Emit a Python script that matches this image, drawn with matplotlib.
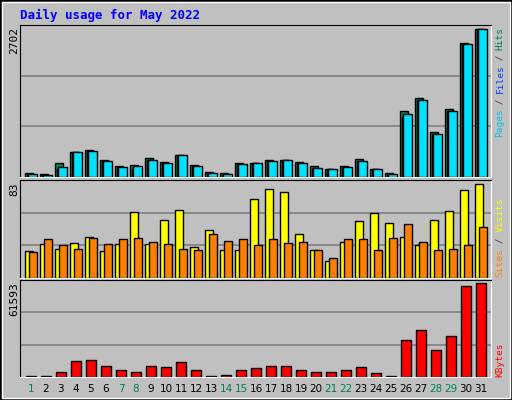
import matplotlib
matplotlib.use("Agg")
import matplotlib.pyplot as plt
from matplotlib.patches import Rectangle

days = list(range(1, 32))
weekend = [1, 7, 8, 14, 15, 21, 22, 28, 29]
hits = [80, 60, 263, 465, 500, 318, 208, 226, 354, 281, 410, 226, 98, 80, 263, 263,
        318, 318, 281, 208, 153, 208, 336, 153, 80, 1198, 1436, 813, 1234, 2444, 2702]
files = [60, 40, 150, 465, 480, 300, 190, 150, 318, 263, 410, 208, 80, 43, 245, 263,
         300, 318, 263, 171, 153, 190, 300, 153, 60, 1094, 1400, 794, 1198, 2426, 2702]
pages = [60, 40, 190, 465, 480, 300, 190, 208, 318, 263, 410, 208, 80, 60, 245, 263,
         300, 318, 263, 171, 153, 190, 300, 153, 60, 1143, 1400, 794, 1198, 2426, 2702]
visits = [24, 30, 26, 31, 36, 24, 30, 58, 30, 51, 60, 27, 42, 25, 25, 70, 79, 76, 39,
          25, 15, 32, 50, 57, 49, 36, 29, 51, 59, 78, 83]
sites = [23, 34, 29, 26, 35, 30, 34, 35, 32, 30, 26, 25, 39, 33, 34, 29, 34, 31, 32,
         25, 18, 34, 34, 25, 35, 48, 32, 25, 26, 29, 45]
kbytes = [900, 900, 3600, 10300, 11000, 6900, 4300, 3600, 6900, 6300, 9600, 4900, 900,
          1600, 4300, 5600, 6900, 6900, 4900, 3600, 3600, 4300, 6300, 2900, 900, 24400,
          31100, 17700, 27100, 59400, 61593]

W, H = 512, 400
BG = "#C0C0C0"
fig = plt.figure(figsize=(W / 100, H / 100), dpi=100, facecolor=BG)
MONO = "DejaVu Sans Mono"

# outer border
fig.patches.append(Rectangle((0, 0), 1, 1, transform=fig.transFigure, fill=False,
                             edgecolor="black", linewidth=2))
fig.patches.append(Rectangle((2/W, 2/H), 1-4/W, 1-4/H, transform=fig.transFigure,
                             fill=False, edgecolor="white", linewidth=1))

def px_ax(l, t, w, h):
    return fig.add_axes([l / W, 1 - (t + h) / H, w / W, h / H])

def style(ax, top):
    ax.set_facecolor(BG)
    ax.set_xlim(0, 31.4)
    ax.set_ylim(0, top)
    for y in (top / 3, 2 * top / 3):
        ax.axhline(y, color="#808080", linewidth=1.2, zorder=0)
    ax.set_xticks([]); ax.set_yticks([])
    ax.spines["top"].set_color("black"); ax.spines["left"].set_color("black")
    ax.spines["bottom"].set_color("white"); ax.spines["right"].set_color("white")

x0 = [d - 1 for d in days]
ec = dict(edgecolor="black", linewidth=1, align="edge")

ax1 = px_ax(20, 25, 471, 152)
style(ax1, max(hits) * 152 / 148)
ax1.bar([x + 0.33 for x in x0], hits, width=0.55, color="#00805C", **ec)
ax1.bar([x + 0.45 for x in x0], files, width=0.5, color="#0000FF", **ec)
ax1.bar([x + 0.55 for x in x0], pages, width=0.55, color="#00E0FF", **ec)

ax2 = px_ax(20, 180, 471, 98)
style(ax2, max(visits) * 98 / 94)
ax2.bar([x + 0.33 for x in x0], visits, width=0.55, color="#FFFF00", **ec)
ax2.bar([x + 0.6 for x in x0], sites, width=0.5, color="#FF8000", **ec)

ax3 = px_ax(20, 280, 471, 97)
style(ax3, max(kbytes) * 97 / 94)
ax3.bar([x + 0.38 for x in x0], kbytes, width=0.7, color="#FF0000", **ec)

fig.text(20 / W, 1 - 15 / H, "Daily usage for May 2022", color="#0000FF",
         family=MONO, fontweight="bold", fontsize=9, va="center", ha="left")

for val, top in ((max(hits), 27), (max(visits), 182), (max(kbytes), 282)):
    fig.text(14 / W, 1 - top / H, str(val), rotation=90, family=MONO, fontsize=8,
             ha="center", va="top")

def vlabel(parts, bottom, step=5.6, x=500):
    i = 0
    for txt, col in parts:
        fig.text(x / W, 1 - (bottom - i * step) / H, txt, rotation=90, color=col,
                 family=MONO, fontsize=6.8, ha="center", va="bottom")
        i += len(txt)

vlabel([("Pages", "#00C0E0"), (" / ", "#404040"), ("Files", "#0040FF"),
        (" / ", "#404040"), ("Hits", "#00805C")], 137, step=5.45)
vlabel([("Sites", "#FF8000"), (" / ", "#404040"), ("Visits", "#FFFF00")], 277)
vlabel([("KBytes", "#FF0000")], 377, step=6)

for d in days:
    col = "#00805C" if d in weekend else "black"
    ax3.text(d - 1 + 0.73, -0.12, str(d), transform=ax3.get_xaxis_transform(),
             ha="center", va="center", fontsize=7.5, color=col, family="DejaVu Sans")

fig.savefig("out.png", dpi=100, facecolor=BG)
